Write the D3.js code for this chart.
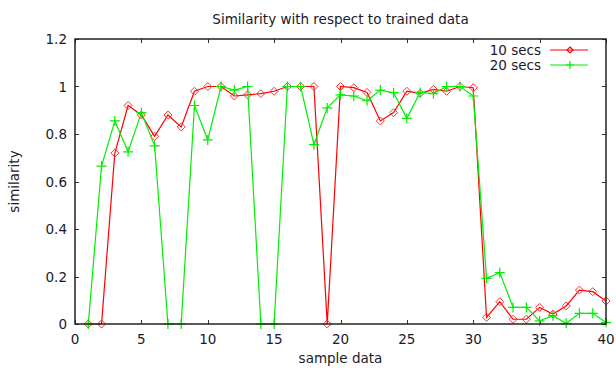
<!DOCTYPE html>
<html>
<head>
<meta charset="UTF-8" />
<title>Similarity with respect to trained data</title>
<script src="https://cdn.jsdelivr.net/npm/d3@7"></script>
<style>
  body { margin: 0; background: #fff; }
  svg text { font-family: 'DejaVu Sans', Verdana, sans-serif; fill: #1a1a2a; }
</style>
</head>
<body>
<div id="chart"></div>
<script>
  // sample index 1..40
  const samples = d3.range(1, 41)

  // similarity for 10 second windows
  const tenSecs = [
    0, 0, 0.72, 0.92, 0.88, 0.79, 0.88, 0.83, 0.98, 1.0,
    1.0, 0.96, 0.965, 0.97, 0.98, 1.0, 1.0, 1.0, 0, 1.0,
    0.995, 0.975, 0.855, 0.89, 0.98, 0.971, 0.988, 0.98, 1.0, 0.995,
    0.028, 0.094, 0.02, 0.02, 0.07, 0.042, 0.076, 0.143, 0.136, 0.097
  ]

  // similarity for 20 second windows
  const twentySecs = [
    0, 0.665, 0.855, 0.725, 0.89, 0.75, 0, 0, 0.92, 0.775,
    1.0, 0.985, 1.0, 0, 0, 1.0, 1.0, 0.755, 0.91, 0.965,
    0.96, 0.94, 0.985, 0.974, 0.866, 0.975, 0.97, 1.0, 1.0, 0.96,
    0.192, 0.216, 0.07, 0.07, 0.013, 0.035, 0.003, 0.045, 0.045, 0.006
  ]

  const xTicks = [0, 5, 10, 15, 20, 25, 30, 35, 40]
  const yTicks = [0, 0.2, 0.4, 0.6, 0.8, 1, 1.2]

  const width = 616
  const height = 372
  const margin = { top: 39, right: 10, bottom: 48, left: 75 }
  const fontSize = 13.5

  const svg = d3.select('#chart')
    .append('svg')
    .attr('width', width)
    .attr('height', height)

  const x = d3.scaleLinear().domain([0, 40]).range([margin.left, width - margin.right])
  const y = d3.scaleLinear().domain([0, 1.2]).range([height - margin.bottom, margin.top])

  const plotTop = y(1.2)
  const plotBottom = y(0)
  const plotLeft = x(0)
  const plotRight = x(40)

  // ticks on all four sides, pointing inward (gnuplot style)
  const tickLen = 4
  const ticks = svg.append('g').attr('stroke', '#333').attr('stroke-width', 1)
  xTicks.forEach((t) => {
    const px = Math.round(x(t)) + 0.5
    ticks.append('line').attr('x1', px).attr('x2', px).attr('y1', plotBottom).attr('y2', plotBottom - tickLen)
    ticks.append('line').attr('x1', px).attr('x2', px).attr('y1', plotTop).attr('y2', plotTop + tickLen)
  })
  yTicks.forEach((t) => {
    const py = Math.round(y(t)) + 0.5
    ticks.append('line').attr('x1', plotLeft).attr('x2', plotLeft + tickLen).attr('y1', py).attr('y2', py)
    ticks.append('line').attr('x1', plotRight).attr('x2', plotRight - tickLen).attr('y1', py).attr('y2', py)
  })

  // tick labels
  svg.append('g')
    .selectAll('text')
    .data(xTicks)
    .enter()
    .append('text')
    .attr('x', (d) => x(d))
    .attr('y', plotBottom + 20)
    .attr('text-anchor', 'middle')
    .attr('font-size', fontSize)
    .text((d) => d)

  svg.append('g')
    .selectAll('text')
    .data(yTicks)
    .enter()
    .append('text')
    .attr('x', plotLeft - 8)
    .attr('y', (d) => y(d) + 5)
    .attr('text-anchor', 'end')
    .attr('font-size', fontSize)
    .text((d) => (d === 0 || d === 1 ? d : d.toFixed(1)))

  // series lines
  const line = d3.line()
    .x((d) => x(d[0]))
    .y((d) => y(d[1]))

  const redData = samples.map((s, i) => [s, tenSecs[i]])
  const greenData = samples.map((s, i) => [s, twentySecs[i]])

  svg.append('path')
    .datum(redData)
    .attr('d', line)
    .attr('fill', 'none')
    .attr('stroke', '#ff0000')
    .attr('stroke-width', 1.2)

  const diamond = (cx, cy, r) =>
    `M${cx},${cy - r}L${cx + r},${cy}L${cx},${cy + r}L${cx - r},${cy}Z`

  svg.append('g')
    .selectAll('path')
    .data(redData)
    .enter()
    .append('path')
    .attr('d', (d) => diamond(x(d[0]), y(d[1]), 4))
    .attr('fill', 'none')
    .attr('stroke', '#ff3030')
    .attr('stroke-width', 1)

  svg.append('path')
    .datum(greenData)
    .attr('d', line)
    .attr('fill', 'none')
    .attr('stroke', '#00ee00')
    .attr('stroke-width', 1.2)

  const plus = (cx, cy, r) =>
    `M${cx - r},${cy}H${cx + r}M${cx},${cy - r}V${cy + r}`

  svg.append('g')
    .selectAll('path')
    .data(greenData)
    .enter()
    .append('path')
    .attr('d', (d) => plus(x(d[0]), y(d[1]), 5))
    .attr('fill', 'none')
    .attr('stroke', '#00ee00')
    .attr('stroke-width', 1.2)

  // plot border
  svg.append('rect')
    .attr('x', plotLeft)
    .attr('y', plotTop)
    .attr('width', plotRight - plotLeft)
    .attr('height', plotBottom - plotTop)
    .attr('fill', 'none')
    .attr('stroke', '#222')
    .attr('stroke-width', 1.5)

  // legend
  const legend = [
    { label: '10 secs', color: '#ff0000', marker: 'diamond' },
    { label: '20 secs', color: '#00ee00', marker: 'plus' },
  ]
  legend.forEach((item, i) => {
    const ly = 50 + i * 15
    svg.append('text')
      .attr('x', 541)
      .attr('y', ly + 5)
      .attr('text-anchor', 'end')
      .attr('font-size', fontSize)
      .text(item.label)
    svg.append('line')
      .attr('x1', 550).attr('x2', 588)
      .attr('y1', ly).attr('y2', ly)
      .attr('stroke', item.color)
      .attr('stroke-width', 1.2)
    svg.append('path')
      .attr('d', item.marker === 'diamond' ? diamond(570, ly, 3) : plus(570, ly, 4))
      .attr('fill', 'none')
      .attr('stroke', item.color)
      .attr('stroke-width', 1.2)
  })

  // title and axis labels
  svg.append('text')
    .attr('x', (plotLeft + plotRight) / 2)
    .attr('y', 24)
    .attr('text-anchor', 'middle')
    .attr('font-size', fontSize)
    .text('Similarity with respect to trained data')

  svg.append('text')
    .attr('x', (plotLeft + plotRight) / 2)
    .attr('y', 363)
    .attr('text-anchor', 'middle')
    .attr('font-size', fontSize)
    .text('sample data')

  svg.append('text')
    .attr('transform', `translate(19, ${(plotTop + plotBottom) / 2}) rotate(-90)`)
    .attr('text-anchor', 'middle')
    .attr('font-size', fontSize)
    .text('similarity')
</script>
</body>
</html>
